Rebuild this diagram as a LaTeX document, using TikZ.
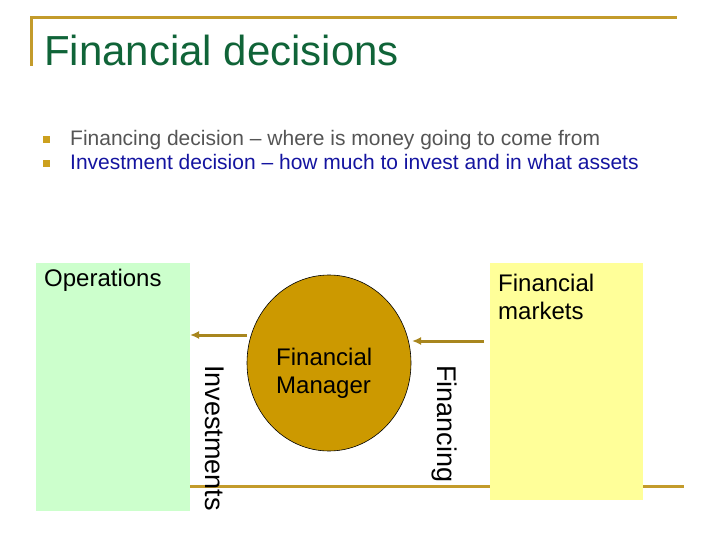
\documentclass[tikz,border=0pt]{standalone}
\usepackage{fontspec}
\setmainfont{Liberation Sans}
\usetikzlibrary{arrows.meta}
\definecolor{goldline}{RGB}{195,155,43}
\definecolor{titlegreen}{RGB}{16,100,56}
\definecolor{graytext}{RGB}{85,85,85}
\definecolor{bluetext}{RGB}{20,20,160}
\definecolor{opsgreen}{RGB}{204,255,204}
\definecolor{mktyellow}{RGB}{255,255,153}
\definecolor{fmgold}{RGB}{204,153,0}
\definecolor{arrowgold}{RGB}{168,134,30}
\definecolor{bulletgold}{RGB}{204,160,30}
\tikzset{
  rule/.style={draw=goldline, line width=3pt},
  txt/.style={inner sep=0pt, anchor=base west, align=left},
  bigtxt/.style={txt, font=\fontsize{24}{28}\selectfont},
  flow/.style={draw=arrowgold, line width=3pt, -{Latex[length=9pt,width=8pt]}},
  bulletbox/.style={fill=bulletgold, minimum size=7pt, inner sep=0pt}
}
\begin{document}
\begin{tikzpicture}[x=1pt,y=-1pt]
\useasboundingbox (0,0) rectangle (720,540);
% rules
\draw[rule] (30,18) -- (677,18);
\draw[rule] (31,18) -- (31,66);
\draw[rule] (190,486) -- (684,486);
% title
\node[txt, text=titlegreen, font=\fontsize{42}{48}\selectfont] (title) at (44,66) {Financial decisions};
% bullets
\node[bulletbox] (b1) at (46,140) {};
\node[bulletbox] (b2) at (46,164) {};
\node[txt, text=graytext, font=\fontsize{21}{24}\selectfont] (l1) at (70,146) {Financing decision -- where is money going to come from};
\node[txt, text=bluetext, font=\fontsize{21}{24}\selectfont] (l2) at (70,170) {Investment decision -- how much to invest and in what assets};
% boxes
\fill[opsgreen] (36,263) rectangle (190,511);
\coordinate (opsE) at (190,335);
\fill[mktyellow] (490,263) rectangle (643,500);
\coordinate (mktW) at (484,341);
\node[bigtxt] (ops) at (44,286) {Operations};
\node[bigtxt] (mkt) at (498,319) {Financial\\markets};
% financial manager
\draw[fill=fmgold, draw=black, line width=0.6pt] (329,363) ellipse [x radius=82, y radius=88];
\coordinate (fmL) at (247,335);
\coordinate (fmR) at (412,341);
\node[bigtxt] (fm) at (276,393) {Financial\\Manager};
% arrows
\draw[flow] (fmL) -- (opsE);
\draw[flow] (mktW) -- (fmR);
% vertical labels
\node[txt, rotate=-90, font=\fontsize{27}{30}\selectfont] (inv) at (205,365) {Investments};
\node[txt, rotate=-90, font=\fontsize{27}{30}\selectfont] (fin) at (437,365) {Financing};
\end{tikzpicture}
\end{document}
